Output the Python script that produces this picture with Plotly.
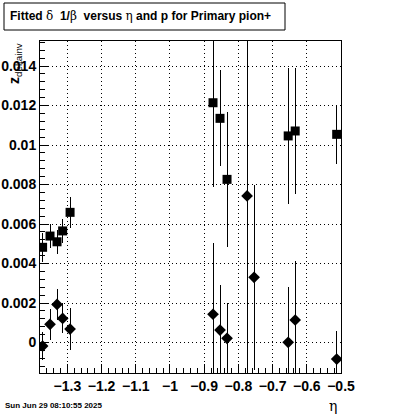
import plotly.graph_objects as go

# Series 1 (squares)
sq_eta = [-1.3724, -1.3507, -1.3302, -1.3138, -1.2921, -0.8742, -0.8537, -0.8332, -0.6544, -0.6339, -0.5126]
sq_val = [0.00482, 0.00539, 0.00510, 0.00565, 0.00659, 0.01214, 0.01135, 0.00826, 0.01046, 0.01071, 0.01054]
sq_err = [0.00075, 0.00060, 0.00060, 0.00060, 0.00080, 0.00425, 0.00243, 0.00342, 0.00344, 0.00320, 0.00148]

# Series 2 (diamonds)
dm_eta = [-1.3724, -1.3507, -1.3302, -1.3138, -1.2921, -0.8742, -0.8537, -0.8332, -0.7746, -0.7541, -0.6544, -0.6339, -0.5126]
dm_val = [-0.00018, 0.00092, 0.00193, 0.00122, 0.00068, 0.00143, 0.00063, 0.00021, 0.00742, 0.00330, 0.00001, 0.00114, -0.00084]
dm_err = [0.00072, 0.00080, 0.00080, 0.00076, 0.00106, 0.00360, 0.00230, 0.00180, 0.00950, 0.00470, 0.00280, 0.00300, 0.00140]

x_tickvals = [-1.3, -1.2, -1.1, -1.0, -0.9, -0.8, -0.7, -0.6, -0.5]
x_ticktext = ["\u22121.3", "\u22121.2", "\u22121.1", "\u22121", "\u22120.9", "\u22120.8", "\u22120.7", "\u22120.6", "\u22120.5"]
y_tickvals = [0, 0.002, 0.004, 0.006, 0.008, 0.010, 0.012, 0.014]
y_ticktext = ["0", "0.002", "0.004", "0.006", "0.008", "0.01", "0.012", "0.014"]

W, H = 400, 414
L, R, T, B = 40, 59, 41, 41
pw, ph = W - L - R, H - T - B


def px2paper(px, py):
    return (px - L) / pw, (H - B - py) / ph


fig = go.Figure()
fig.add_trace(go.Scatter(
    x=sq_eta, y=sq_val, mode="markers",
    marker=dict(symbol="square", size=9, color="black"),
    error_y=dict(type="data", array=sq_err, visible=True, color="black", thickness=1, width=0),
    showlegend=False, cliponaxis=True))
fig.add_trace(go.Scatter(
    x=dm_eta, y=dm_val, mode="markers",
    marker=dict(symbol="diamond", size=9, color="black"),
    error_y=dict(type="data", array=dm_err, visible=True, color="black", thickness=1, width=0),
    showlegend=False, cliponaxis=True))

axis_common = dict(
    showline=True, linecolor="black", linewidth=1, mirror=True,
    ticks="inside", ticklen=9, tickcolor="black", tickwidth=1,
    showgrid=True, gridcolor="black", griddash="1px,3px", gridwidth=1,
    zeroline=False, automargin=False,
    tickfont=dict(family="Liberation Sans", size=14, color="black", weight="bold"),
)

fig.update_xaxes(range=[-1.38, -0.5], tickmode="array", tickvals=x_tickvals, ticktext=x_ticktext,
                 minor=dict(dtick=0.02, tick0=0, ticks="inside", ticklen=5, tickcolor="black", showgrid=False),
                 **axis_common)
fig.update_yaxes(range=[-0.001544, 0.015266], tickmode="array", tickvals=y_tickvals, ticktext=y_ticktext,
                 minor=dict(dtick=0.0004, tick0=0, ticks="inside", ticklen=5, tickcolor="black", showgrid=False),
                 **axis_common)

# Title box
x0, y0 = px2paper(4, 3)
x1, y1 = px2paper(285, 30)
fig.add_shape(type="rect", xref="paper", yref="paper", x0=x0, y0=y1, x1=x1, y1=y0,
              line=dict(color="black", width=1), fillcolor="white")

g = "<span style=\"font-family:'DejaVu Serif'\">%s</span>"
title_text = ("<b>Fitted </b>" + g % "\u03b4" + "<b>  1/</b>" + g % "\u03b2" +
              "<b>  versus </b>" + g % "\u03b7" + "<b> and p for Primary pion+</b>")
tx, ty = px2paper(140, 16.5)
fig.add_annotation(xref="paper", yref="paper", x=tx, y=ty, text=title_text, showarrow=False,
                   xanchor="center", yanchor="middle",
                   font=dict(family="Liberation Sans", size=12, color="black"))

# Y axis title
zx, zy = px2paper(15, 64)
fig.add_annotation(xref="paper", yref="paper", x=zx, y=zy,
                   text="<b>z</b><sub>deltainv</sub>", textangle=-90, showarrow=False,
                   xanchor="center", yanchor="middle",
                   font=dict(family="Liberation Sans", size=14, color="black"))

# X axis title
ex, ey = px2paper(333, 406)
fig.add_annotation(xref="paper", yref="paper", x=ex, y=ey, text="\u03b7", showarrow=False,
                   xanchor="center", yanchor="middle",
                   font=dict(family="DejaVu Serif", size=14, color="black"))

# Date stamp
dx, dy = px2paper(3, 406)
fig.add_annotation(xref="paper", yref="paper", x=dx, y=dy, text="<b>Sun Jun 29 08:10:55 2025</b>",
                   showarrow=False, xanchor="left", yanchor="middle",
                   font=dict(family="Liberation Sans", size=8, color="black"))

fig.update_layout(width=W, height=H, autosize=False,
                  margin=dict(l=L, r=R, t=T, b=B, pad=0),
                  paper_bgcolor="white", plot_bgcolor="white")

fig.write_html("out.html", config={"displayModeBar": False},
               post_script=("document.body.style.margin='0';document.body.style.overflow='hidden';"
                            "document.querySelectorAll('.errorbar path').forEach(function(p){"
                            "p.style.shapeRendering='crispEdges';});"))
